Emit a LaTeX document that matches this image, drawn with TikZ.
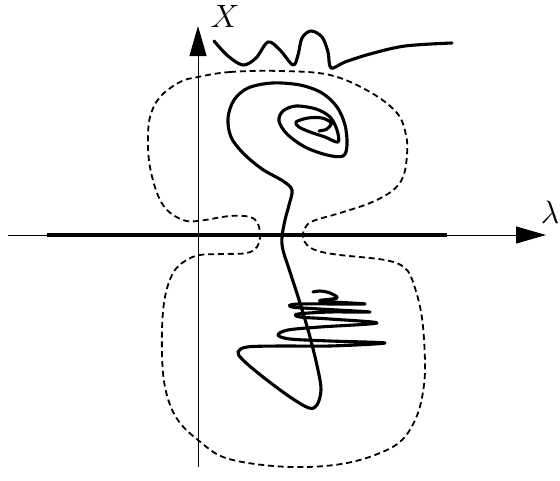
\documentclass[tikz,border=0pt]{standalone}
\usepackage{graphicx}
\usetikzlibrary{arrows.meta}
\newcommand{\biglbl}[1]{\scalebox{1.3}{\Huge$#1$}}
\begin{document}
\begin{tikzpicture}[x=1pt,y=-1pt,
  axis/.style={line width=1pt,-{Triangle[length=30pt,width=17pt]}},
  thickline/.style={line width=3.1pt,line cap=round,line join=round},
  boundary/.style={line width=1.8pt,dash pattern=on 6pt off 3.8pt},
  lbl/.style={inner sep=0pt}]
\useasboundingbox (0,0) rectangle (560,480);
% axes
\coordinate (hstart) at (8,235);
\coordinate (hend) at (546,235);
\coordinate (vstart) at (198,467);
\coordinate (vend) at (198,26);
\draw[axis] (hstart) -- (hend);
\draw[axis] (vstart) -- (vend);
\node[lbl] (xlab) at (225,16) {\biglbl{X}};
\node[lbl,anchor=east] (llab) at (559.5,212) {\biglbl{\lambda}};
% thick segment on the lambda axis
\coordinate (sa) at (47,235);
\coordinate (sb) at (447,235);
\draw[line width=3.2pt] (sa) -- (sb);
% dashed boundary
\draw[boundary] plot[smooth cycle,tension=0.6] coordinates {
(198,77) (230,72) (280,71) (330,75) (370,92) (397,113) (406,135) (407,155)
(403,177) (392,191) (370,203) (340,213) (313,221) (305,228) (303,237)
(307,245) (318,251) (340,255) (385,260) (405,268) (414,285) (422,318)
(425,363) (423,392) (416,418) (402,440) (380,453) (347,463) (307,467)
(263,465) (223,457) (198,440) (180,423) (169,402) (163,373) (162,330)
(165,297) (173,273) (185,261) (200,255) (225,254) (247,253) (257,247)
(260,237) (258,224) (250,217) (230,216) (198,221) (183,220) (167,210)
(157,193) (150,167) (148,143) (150,117) (160,97) (180,82)};
% top wavy curve
\draw[thickline] plot[smooth,tension=0.55] coordinates {
(214,41) (228,56) (243,65) (256,58) (268,42) (280,50) (293,65) (298,55)
(302,38) (311,31) (322,37) (328,52) (331,68) (345,62) (370,54) (405,46) (452,43)};
% spiral / main trajectory
\draw[thickline] plot[smooth,tension=0.55] coordinates {
(319,131) (327,129) (331,123) (322,118) (308,118) (296,122) (299,127)
(310,132) (325,137) (338,142) (337,130) (330,117) (316,109) (296,106)
(283,111) (279,121) (287,134) (305,147) (327,155) (343,156) (347,145)
(345,125) (337,107) (322,93) (300,85) (272,83) (248,88) (234,100)
(228,118) (231,137) (243,153) (262,169) (283,181) (292,190) (289,205)
(285,220) (282,237) (283,250) (290,272) (300,303) (310,337) (318,370)
(321,390) (317,405) (309,408) (290,397) (263,377) (243,360) (238,352)
(247,347) (280,346) (330,346) (385,343) (330,341) (290,339) (278,335)
(288,330) (320,327) (377,323) (330,319) (300,317) (298,314) (330,312)
(370,312) (320,309) (292,307) (298,304) (365,304) (320,301) (337,298)
(330,293) (320,291) (313,292)};
\end{tikzpicture}
\end{document}
